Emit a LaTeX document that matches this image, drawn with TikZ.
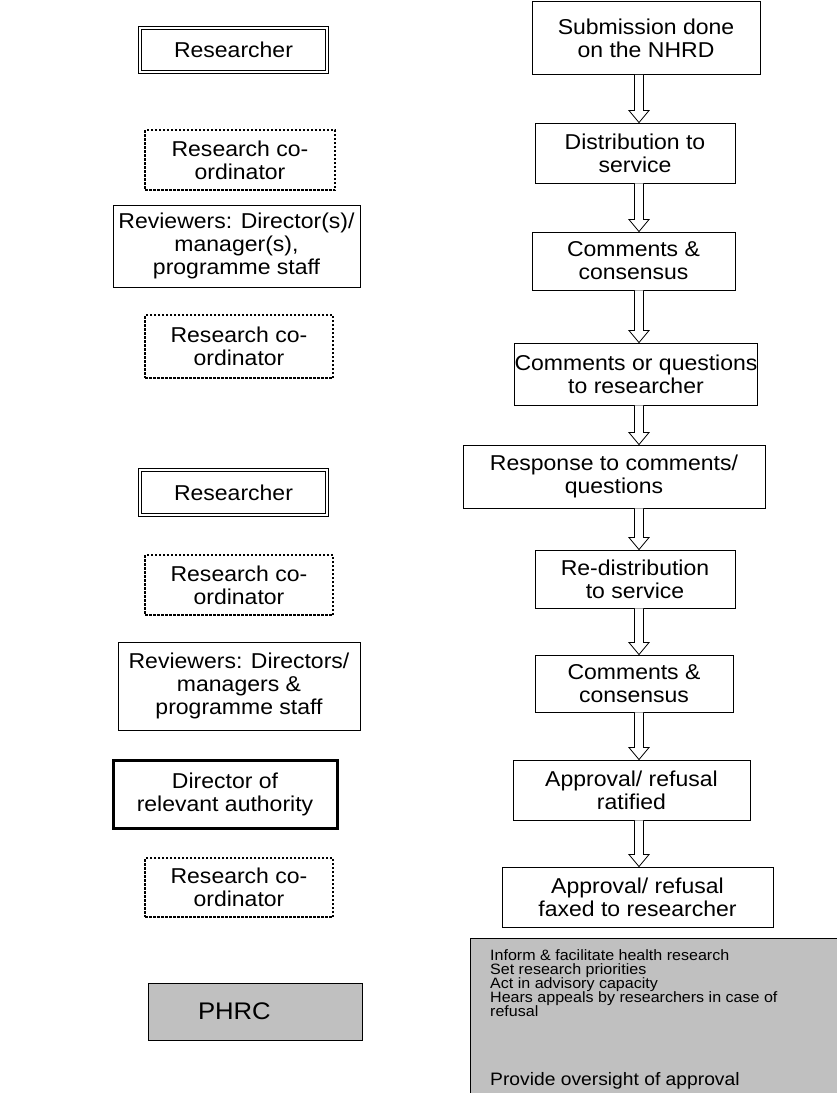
\documentclass[tikz,border=0pt]{standalone}
\usepackage{fontspec}
\setmainfont{Liberation Sans}[FakeStretch=1.07]
\usetikzlibrary{calc}
\definecolor{boxgray}{RGB}{192,192,192}

\newcommand{\hollowarrow}[2]{%
  \draw[line width=0.8pt, fill=white] let \p1=(#1), \p2=(#2) in
    (\x1-4.5pt,\y1) -- (\x1-4.5pt,\y2+12pt) -- (\x1-10pt,\y2+12pt) -- (\x1,\y2)
    -- (\x1+10pt,\y2+12pt) -- (\x1+4.5pt,\y2+12pt) -- (\x1+4.5pt,\y1);}

\begin{document}
\begin{tikzpicture}
	[x=1pt,y=-1pt,
	 every node/.style={font=\fontsize{21.5}{23}\selectfont, align=center, inner sep=0pt},
	 plainbox/.style={draw, line width=0.9pt},
	 doublebox/.style={draw, line width=1pt, double=white, double distance=2pt},
	 dottedbox/.style={draw, line width=2.5pt, dash pattern=on 2.5pt off 1.5pt},
	 heavybox/.style={draw, line width=3pt},
	 greybox/.style={draw, line width=1pt, fill=boxgray}]

	\useasboundingbox (0,0) rectangle (837,1093);

	% who does it
	\node[doublebox, minimum width=187, minimum height=44] (res1) at (233.5,50) {Researcher};
	\node[dottedbox, minimum width=190, minimum height=60] (coord1) at (240,160) {Research co-\\ordinator};
	\node[plainbox, minimum width=247, minimum height=82] (rev1) at (236.5,246) {Reviewers: Director(s)/\\manager(s),\\programme staff};
	\node[dottedbox, minimum width=188, minimum height=63] (coord2) at (239,346.5) {Research co-\\ordinator};
	\node[doublebox, minimum width=187, minimum height=45] (res2) at (233.5,492.5) {Researcher};
	\node[dottedbox, minimum width=188, minimum height=60] (coord3) at (239,585) {Research co-\\ordinator};
	\node[plainbox, minimum width=242, minimum height=88] (rev2) at (239,686) {Reviewers: Directors/\\managers \&\\programme staff};
	\node[heavybox, minimum width=224, minimum height=68] (dir) at (225,794) {Director of\\relevant authority};
	\node[dottedbox, minimum width=188, minimum height=59] (coord4) at (239,887.5) {Research co-\\ordinator};
	\node[greybox, minimum width=214, minimum height=57, text width=114, align=left, inner xsep=50pt,
		font=\fontsize{24}{26}\selectfont] (phrc) at (255,1011.5) {PHRC};

	% what happens
	\node[plainbox, minimum width=228, minimum height=73] (submit) at (646,38) {Submission done\\on the NHRD};
	\node[plainbox, minimum width=200, minimum height=60] (distrib) at (635,153) {Distribution to\\service};
	\node[plainbox, minimum width=203, minimum height=58] (consens1) at (633.5,261) {Comments \&\\consensus};
	\node[plainbox, minimum width=232, minimum height=62] (questions) at (636,374) {Comments or questions\\to researcher};
	\node[plainbox, minimum width=302, minimum height=63] (response) at (614,476.5) {Response to comments/\\questions};
	\node[plainbox, minimum width=200, minimum height=58] (redistrib) at (635,579) {Re-distribution\\to service};
	\node[plainbox, minimum width=198, minimum height=57] (consens2) at (634,683.5) {Comments \&\\consensus};
	\node[plainbox, minimum width=237, minimum height=60] (ratified) at (631.5,790) {Approval/ refusal\\ratified};
	\node[plainbox, minimum width=271, minimum height=60] (faxed) at (637.5,897) {Approval/ refusal\\faxed to researcher};

	\coordinate (arrowcol) at (639,0);
	\hollowarrow{submit.south -| arrowcol}{distrib.north -| arrowcol}
	\hollowarrow{distrib.south -| arrowcol}{consens1.north -| arrowcol}
	\hollowarrow{consens1.south -| arrowcol}{questions.north -| arrowcol}
	\hollowarrow{questions.south -| arrowcol}{response.north -| arrowcol}
	\hollowarrow{response.south -| arrowcol}{redistrib.north -| arrowcol}
	\hollowarrow{redistrib.south -| arrowcol}{consens2.north -| arrowcol}
	\hollowarrow{consens2.south -| arrowcol}{ratified.north -| arrowcol}
	\hollowarrow{ratified.south -| arrowcol}{faxed.north -| arrowcol}

	% role of the PHRC
	\node[greybox, anchor=north west, minimum width=420, minimum height=200] (roles) at (470,938) {};
	\node[anchor=north west, align=left, font=\fontsize{15}{14}\selectfont] (roletext) at ([xshift=20pt,yshift=-11pt]roles.north west)
		{Inform \& facilitate health research\\Set research priorities\\Act in advisory capacity\\
		 Hears appeals by researchers in case of\\refusal\\[55pt]{\fontsize{18}{20}\selectfont Provide oversight of approval}};

\end{tikzpicture}
\end{document}
